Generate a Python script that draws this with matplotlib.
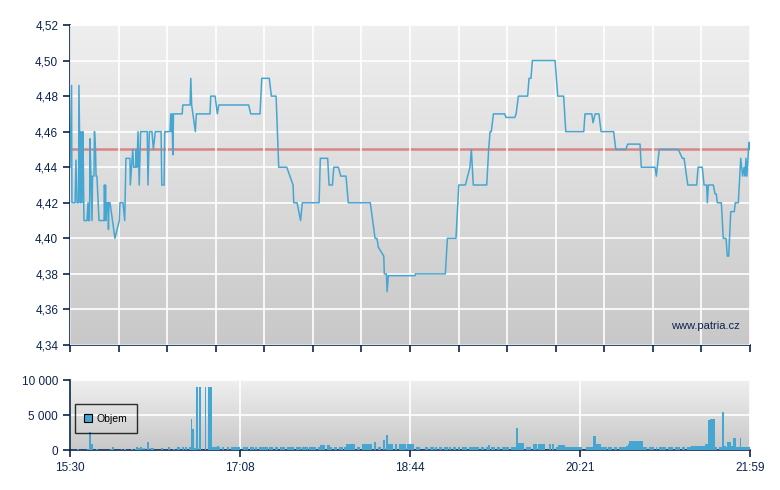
import numpy as np
import matplotlib
matplotlib.use("Agg")
import matplotlib.pyplot as plt
from matplotlib.patches import Patch
from matplotlib.ticker import FuncFormatter

plt.rcParams['font.family'] = ['Liberation Sans', 'DejaVu Sans']

# cas v minutach od 15:30, cena
cas = [0, 0.9, 1.1, 2.9, 3.4, 4.0, 4.9, 5.1, 6.0, 6.3, 6.9, 7.2, 7.4, 8.0, 9.7, 10.3, 10.6, 11.2,
       11.4, 12.0, 12.6, 12.9, 13.7, 14.0, 14.6, 14.9, 15.4, 16.6, 19.5, 19.7, 20.0, 20.3, 20.6,
       21.2, 21.7, 22.0, 22.3, 22.9, 25.7, 28.2, 28.6, 30.3, 31.3, 32.0, 34.3, 34.5, 35.9, 36.4,
       37.5, 37.9, 38.3, 38.9, 39.6, 40.4, 44.2, 44.6, 45.4, 46.9, 47.7, 48.8, 52.1, 52.5, 53.8,
       54.2, 57.2, 57.6, 58.1, 58.4, 58.8, 59.2, 64.2, 64.5, 68.7, 69.1, 69.6, 71.7, 72.3, 80.1,
       80.5, 83.0, 84.3, 85.1, 102.2, 103.4, 108.7, 109.7, 114.0, 115.2, 117.9, 119.4, 124.0,
       127.6, 128.0, 129.9, 131.9, 132.9, 142.5, 143.2, 147.4, 148.2, 150.1, 150.9, 153.5, 154.9,
       157.9, 159.2, 171.8, 174.5, 175.6, 176.4, 179.5, 179.8, 181.0, 181.4, 182.1, 197.4, 197.5,
       214.7, 215.9, 220.8, 222.4, 226.2, 228.8, 229.6, 230.7, 238.4, 239.5, 240.3, 241.0, 242.2,
       248.7, 249.4, 254.4, 255.2, 256.5, 261.8, 262.6, 263.7, 264.5, 277.5, 279.0, 282.4, 283.6,
       293.9, 294.6, 298.5, 299.2, 300.4, 302.6, 303.8, 311.0, 312.2, 317.9, 319.1, 326.1, 326.8,
       334.7, 335.4, 337.1, 348.0, 350.3, 351.3, 352.0, 353.4, 358.5, 359.3, 361.7, 362.7, 364.2,
       364.6, 365.2, 368.0, 369.0, 369.7, 370.3, 372.6, 373.7, 375.3, 376.0, 376.8, 378.0, 380.0,
       380.6, 382.3, 383.7, 384.8, 385.6, 386.1, 386.7, 387.2, 388.4, 389.0]
cena = [4.44, 4.486, 4.42, 4.42, 4.444, 4.42, 4.42, 4.486, 4.42, 4.46, 4.42, 4.46, 4.46, 4.41, 4.41, 4.42, 4.41, 4.41,
        4.456, 4.435, 4.41, 4.435, 4.435, 4.46, 4.45, 4.435, 4.435, 4.41, 4.41, 4.43, 4.41, 4.43, 4.41,
        4.42, 4.42, 4.405, 4.42, 4.42, 4.40, 4.41, 4.42, 4.42, 4.41, 4.445, 4.445, 4.43, 4.45, 4.44,
        4.44, 4.45, 4.44, 4.46, 4.43, 4.46, 4.46, 4.43, 4.46, 4.46, 4.45, 4.46, 4.46, 4.43, 4.43,
        4.46, 4.46, 4.47, 4.46, 4.47, 4.447, 4.47, 4.47, 4.475, 4.475, 4.49, 4.475, 4.46, 4.47, 4.47,
        4.48, 4.48, 4.47, 4.475, 4.475, 4.47, 4.47, 4.49, 4.49, 4.48, 4.48, 4.44, 4.44,
        4.43, 4.42, 4.42, 4.41, 4.42, 4.42, 4.445, 4.445, 4.43, 4.43, 4.44, 4.44, 4.435,
        4.435, 4.42, 4.42, 4.40, 4.40, 4.395, 4.39, 4.38, 4.38, 4.37, 4.379, 4.379, 4.38,
        4.38, 4.40, 4.40, 4.43, 4.43, 4.44, 4.45, 4.43, 4.43, 4.45, 4.46, 4.46, 4.47,
        4.47, 4.468, 4.468, 4.47, 4.48, 4.48, 4.49, 4.49, 4.50, 4.50, 4.48, 4.48, 4.46,
        4.46, 4.47, 4.47, 4.465, 4.47, 4.47, 4.46, 4.46, 4.45, 4.45, 4.453, 4.453, 4.44,
        4.44, 4.435, 4.45, 4.45, 4.445, 4.445, 4.44, 4.43, 4.43, 4.44, 4.44, 4.43, 4.43,
        4.42, 4.43, 4.43, 4.425, 4.425, 4.42, 4.42, 4.40, 4.40, 4.39, 4.39, 4.415, 4.415,
        4.42, 4.42, 4.445, 4.435, 4.44, 4.435, 4.445, 4.435, 4.454, 4.45]

reference = 4.45

# objem po minutach (minuta 0 = 15:30)
objem = [
    0, 0, 0, 0, 200, 0, 0, 0, 0, 0, 200, 2600, 900, 0, 0, 200, 0, 0, 0, 0,
    0, 0, 0, 200, 400, 0, 0, 0, 0, 200, 0, 200, 0, 0, 0, 200, 0, 200, 500, 300,
    400, 0, 300, 0, 1200, 0, 300, 300, 0, 0, 0, 0, 300, 0, 0, 0, 400, 0, 0, 200,
    0, 400, 400, 0, 400, 0, 400, 0, 500, 4500, 3000, 300, 9000, 0, 9000, 0, 0, 9000, 0, 9000,
    9000, 500, 500, 400, 600, 400, 0, 400, 0, 0, 400, 0, 400, 400, 400, 400, 400, 0, 0, 400,
    400, 400, 0, 400, 400, 0, 400, 0, 400, 400, 400, 400, 400, 0, 400, 400, 0, 400, 400, 0,
    400, 400, 400, 0, 400, 400, 400, 400, 0, 400, 400, 400, 0, 400, 400, 400, 0, 400, 400, 400,
    400, 0, 400, 700, 700, 700, 0, 700, 700, 400, 0, 400, 400, 0, 400, 400, 0, 400, 800, 800,
    800, 800, 800, 0, 400, 400, 0, 800, 800, 800, 800, 800, 800, 0, 1100, 0, 400, 400, 0, 1400,
    0, 2100, 900, 800, 800, 0, 800, 0, 800, 800, 800, 800, 0, 800, 800, 800, 800, 0, 400, 400,
    0, 0, 0, 400, 400, 0, 400, 400, 0, 400, 0, 400, 400, 0, 400, 400, 0, 400, 0, 400,
    400, 0, 400, 0, 400, 400, 400, 0, 400, 400, 400, 400, 400, 400, 0, 400, 400, 0, 400, 700,
    0, 400, 400, 0, 400, 400, 0, 400, 400, 400, 400, 0, 400, 400, 400, 3200, 1000, 1000, 1000, 1000,
    0, 400, 400, 400, 0, 900, 900, 0, 900, 900, 900, 900, 0, 0, 900, 0, 900, 0, 400, 700,
    700, 700, 700, 400, 400, 400, 400, 400, 400, 400, 400, 400, 400, 0, 0, 400, 400, 400, 400, 2000,
    2000, 800, 800, 800, 400, 400, 400, 0, 400, 400, 0, 400, 400, 0, 400, 400, 400, 400, 600, 900,
    1300, 1300, 1300, 1300, 1300, 1300, 1300, 1300, 400, 400, 0, 400, 400, 400, 0, 400, 0, 400, 400, 400,
    400, 0, 400, 400, 400, 0, 400, 400, 400, 0, 400, 400, 0, 400, 400, 600, 600, 600, 600, 600,
    600, 600, 600, 900, 900, 4300, 4500, 4500, 4500, 400, 0, 400, 400, 5500, 600, 400, 1200, 1200, 600, 1700,
    1700, 500, 500, 1700, 400, 400, 400, 400, 400]

popisky_casu = ["15:30", "17:08", "18:44", "20:21", "21:59"]
delka = 389

navy = "#0c2350"
modra = "#46a6d2"

fig = plt.figure(figsize=(7.8, 4.9), dpi=100)
ax1 = fig.add_axes([70/780, 145/490, 680/780, 320/490])
ax2 = fig.add_axes([70/780, 40/490, 680/780, 70/490])

grad = np.linspace(0, 1, 256).reshape(-1, 1)
for ax in (ax1, ax2):
    ax.imshow(grad, aspect='auto', extent=[0, 1, 0, 1], transform=ax.transAxes,
              cmap=matplotlib.colors.LinearSegmentedColormap.from_list('g', ['#c8c8c8', '#efefef']),
              origin='lower', zorder=0)
    for s in ('top', 'right'):
        ax.spines[s].set_visible(False)
    for s in ('left', 'bottom'):
        ax.spines[s].set_color(navy)
        ax.spines[s].set_linewidth(1.2)
    ax.tick_params(colors=navy, labelsize=8.5, length=5, width=1.2, direction='out')
    ax.set_xlim(0, delka)

# horni graf - cena
ax1.set_ylim(4.34, 4.52)
ax1.set_yticks(np.arange(4.34, 4.521, 0.02))
ax1.yaxis.set_major_formatter(FuncFormatter(lambda v, p: "{:.2f}".format(v).replace(".", ",")))
ax1.set_xticks(np.linspace(0, delka, 15))
ax1.set_xticklabels([])
ax1.grid(True, color='white', linewidth=1.2, zorder=1)
ax1.set_axisbelow(False)
ax1.axhline(reference, color='#d98585', linewidth=1.8, zorder=2)
ax1.plot(cas, cena, color=modra, linewidth=1.1, zorder=3)
ax1.text(0.985, 0.06, "www.patria.cz", transform=ax1.transAxes, ha='right', va='center',
         color=navy, fontsize=8)

# dolni graf - objem
ax2.bar(np.arange(len(objem)) + 0.5, objem, width=1.0, color=modra, linewidth=0, zorder=3)
ax2.set_ylim(0, 10000)
ax2.set_yticks([0, 5000, 10000])
ax2.yaxis.set_major_formatter(FuncFormatter(lambda v, p: "{:,.0f}".format(v).replace(",", " ")))
ax2.set_xticks(np.linspace(0, delka, 5))
ax2.set_xticklabels(popisky_casu)
ax2.grid(True, color='white', linewidth=1.2, zorder=1)
leg = ax2.legend(handles=[Patch(facecolor=modra, edgecolor='black', linewidth=0.8, label='Objem')],
                 loc='lower left', bbox_to_anchor=(0.007, 0.24), borderaxespad=0,
                 fancybox=False, frameon=True, fontsize=7.5, handlelength=0.8, handleheight=0.8,
                 handletextpad=0.4, borderpad=0.9)
leg.get_frame().set_edgecolor('black')
leg.get_frame().set_facecolor('none')
leg.get_frame().set_linewidth(1.0)

fig.savefig("out.png", dpi=100)
